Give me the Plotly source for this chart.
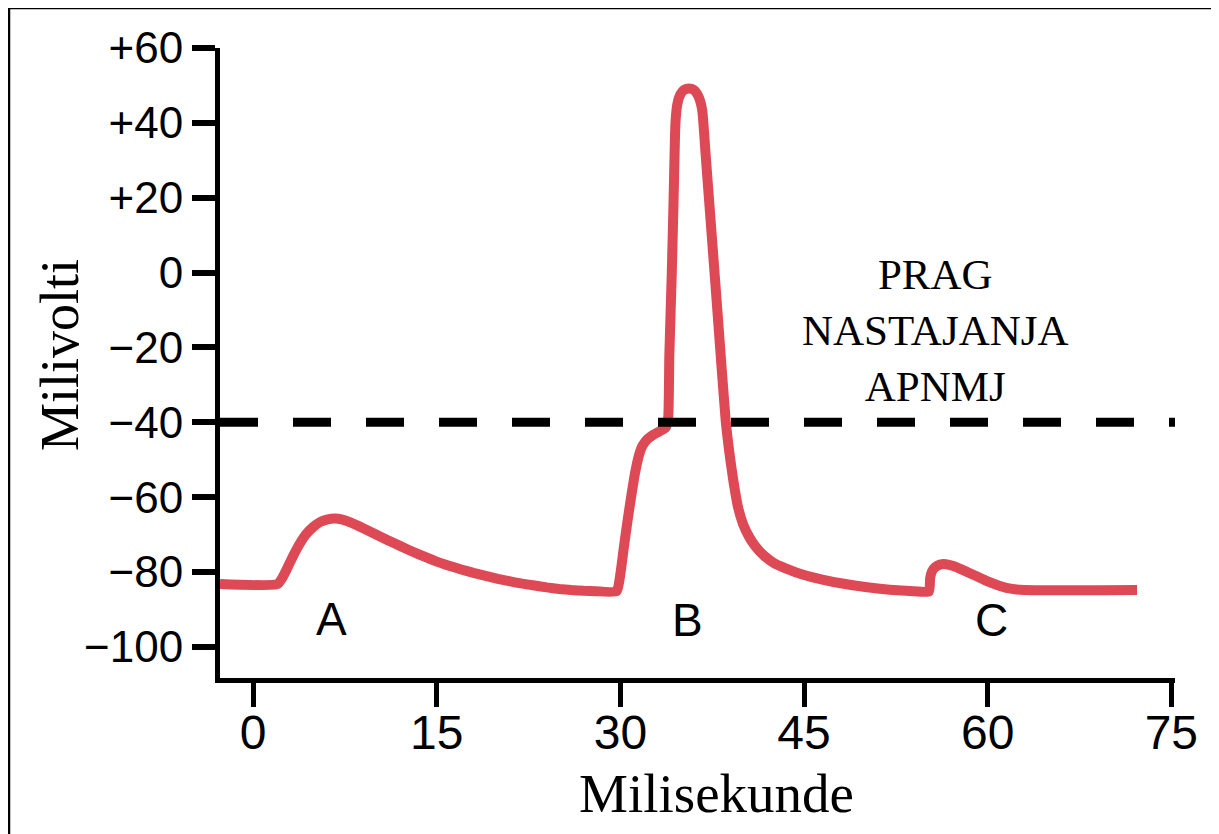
import plotly.graph_objects as go

# ---- data ----
time_ms = [-2.7, 2.0, 2.4, 2.8, 3.3, 3.8, 4.3, 4.9, 5.5, 6.1, 6.7, 7.3, 8.0, 9.0, 10.0, 11.0,
           12.0, 13.0, 14.0, 15.0, 16.0, 17.0, 18.0, 19.0, 20.0, 21.0, 22.0, 23.0, 24.0, 25.0,
           26.0, 27.0, 28.0, 29.7,
           30.0, 30.3, 30.6, 30.9, 31.2, 31.5, 31.8, 32.2, 32.7, 33.2, 33.7, 33.9, 34.0, 34.2,
           34.35, 34.5, 34.65, 34.9, 35.2, 35.6, 36.0, 36.3, 36.55, 36.7, 37.0, 37.5, 38.0,
           38.6, 38.9, 39.2, 39.6, 40.0, 40.5, 41.0, 41.7, 42.5, 43.5, 45.0, 46.5, 48.0, 50.0,
           52.0, 54.0, 55.2,
           55.3, 55.45, 55.7, 56.1, 56.6, 57.2, 58.0, 59.0, 60.0, 61.0, 62.0, 63.0, 72.2]
potential_mv = [-83.2, -83.2, -81.5, -78.9, -75.5, -72.5, -70.0, -68.0, -66.6, -65.9, -65.7, -66.0, -66.8, -68.3, -69.9, -71.5,
                -73.0, -74.5, -75.9, -77.2, -78.3, -79.3, -80.2, -81.0, -81.8, -82.5, -83.1, -83.6, -84.1, -84.5,
                -84.8, -85.0, -85.1, -85.1,
                -80.5, -73.0, -66.0, -59.5, -53.5, -49.0, -46.3, -44.5, -43.3, -42.4, -41.4, -39.0, -22.0, 0.0,
                20.0, 40.0, 45.0, 47.6, 48.8, 49.2, 48.8, 47.6, 45.5, 43.0, 30.0, 8.3, -13.5,
                -39.5, -48.0, -55.0, -62.5, -67.0, -70.5, -73.0, -75.5, -77.5, -79.0, -80.8, -82.0, -83.0, -84.0,
                -84.7, -85.1, -85.2,
                -81.6, -79.8, -78.7, -78.0, -77.9, -78.4, -79.5, -81.0, -82.5, -83.7, -84.5, -84.8, -84.8]

threshold_x = [-2.7, 75.3]
threshold_y = [-40, -40]
threshold_text = "PRAG<br>NASTAJANJA<br>APNMJ"

x_tickvals = [0, 15, 30, 45, 60, 75]
x_ticktext = ["0", "15", "30", "45", "60", "75"]
y_tickvals = [-100, -80, -60, -40, -20, 0, 20, 40, 60]
y_ticktext = ["\u2212100", "\u221280", "\u221260", "\u221240", "\u221220", "0", "+20", "+40", "+60"]

label_text = ["A", "B", "C"]
label_x = [6.4, 35.5, 60.3]
label_y = [-92.5, -92.8, -92.8]

x_title = "Milisekunde"
y_title = "Milivolti"

# ---- figure (page has an 8px body margin, so figure is sized/offset to compensate) ----
OFF = 8
W, H = 1219 - OFF, 834 - OFF
L, R, T, B = 220 - OFF, 44, 48 - OFF, 156
pw, ph = W - L - R, H - T - B


def px_x(p):  # page pixel -> paper
    return (p - OFF - L) / pw


def px_y(p):
    return (H - B - (p - OFF)) / ph


fig = go.Figure()

fig.add_trace(go.Scatter(
    x=time_ms, y=potential_mv, mode="lines",
    line=dict(color="#de4956", width=10, shape="spline", smoothing=0.5),
    hoverinfo="skip", showlegend=False,
))

fig.add_trace(go.Scatter(
    x=threshold_x, y=threshold_y, mode="lines",
    line=dict(color="black", width=9, dash="38px,35px"),
    hoverinfo="skip", showlegend=False,
))

annotations = []
for t, x, y in zip(label_text, label_x, label_y):
    annotations.append(dict(x=x, y=y, xref="x", yref="y", text=t, showarrow=False,
                            font=dict(family="Liberation Sans, Arial, sans-serif", size=46, color="black"),
                            xanchor="center", yanchor="middle"))

annotations.append(dict(x=55.75, y=-15.5, xref="x", yref="y", text=threshold_text, showarrow=False,
                        font=dict(family="Liberation Serif, Times New Roman, serif", size=43, color="black"),
                        xanchor="center", yanchor="middle", align="center"))

annotations.append(dict(x=px_x(716), y=px_y(793), xref="paper", yref="paper", text=x_title,
                        showarrow=False, xanchor="center", yanchor="middle",
                        font=dict(family="Liberation Serif, Times New Roman, serif", size=55, color="black")))
annotations.append(dict(x=px_x(60), y=px_y(355), xref="paper", yref="paper", text=y_title,
                        showarrow=False, xanchor="center", yanchor="middle", textangle=-90,
                        font=dict(family="Liberation Serif, Times New Roman, serif", size=54, color="black")))

shapes = [
    dict(type="line", xref="paper", yref="paper", x0=px_x(9), y0=px_y(840), x1=px_x(9), y1=px_y(8),
         line=dict(color="black", width=2.5)),
    dict(type="line", xref="paper", yref="paper", x0=px_x(9), y0=px_y(8), x1=px_x(1230), y1=px_y(8),
         line=dict(color="black", width=2.5)),
]

fig.update_layout(
    width=W, height=H, autosize=False,
    margin=dict(l=L, r=R, t=T, b=B),
    paper_bgcolor="white", plot_bgcolor="white",
    annotations=annotations, shapes=shapes,
    showlegend=False,
)

fig.update_xaxes(
    range=[-2.7, 75.3], tickvals=x_tickvals, ticktext=x_ticktext,
    showline=True, linecolor="black", linewidth=5,
    ticks="outside", ticklen=24, tickwidth=5, tickcolor="black",
    showgrid=False, zeroline=False, ticklabelstandoff=-16,
    tickfont=dict(family="Liberation Sans, Arial, sans-serif", size=48, color="black"),
)
fig.update_yaxes(
    range=[-108.3, 60], tickvals=y_tickvals, ticktext=y_ticktext,
    showline=True, linecolor="black", linewidth=5,
    ticks="outside", ticklen=23, tickwidth=6, tickcolor="black",
    showgrid=False, zeroline=False,
    tickfont=dict(family="Liberation Sans, Arial, sans-serif", size=44, color="black"),
)

fig.write_html("out.html")
